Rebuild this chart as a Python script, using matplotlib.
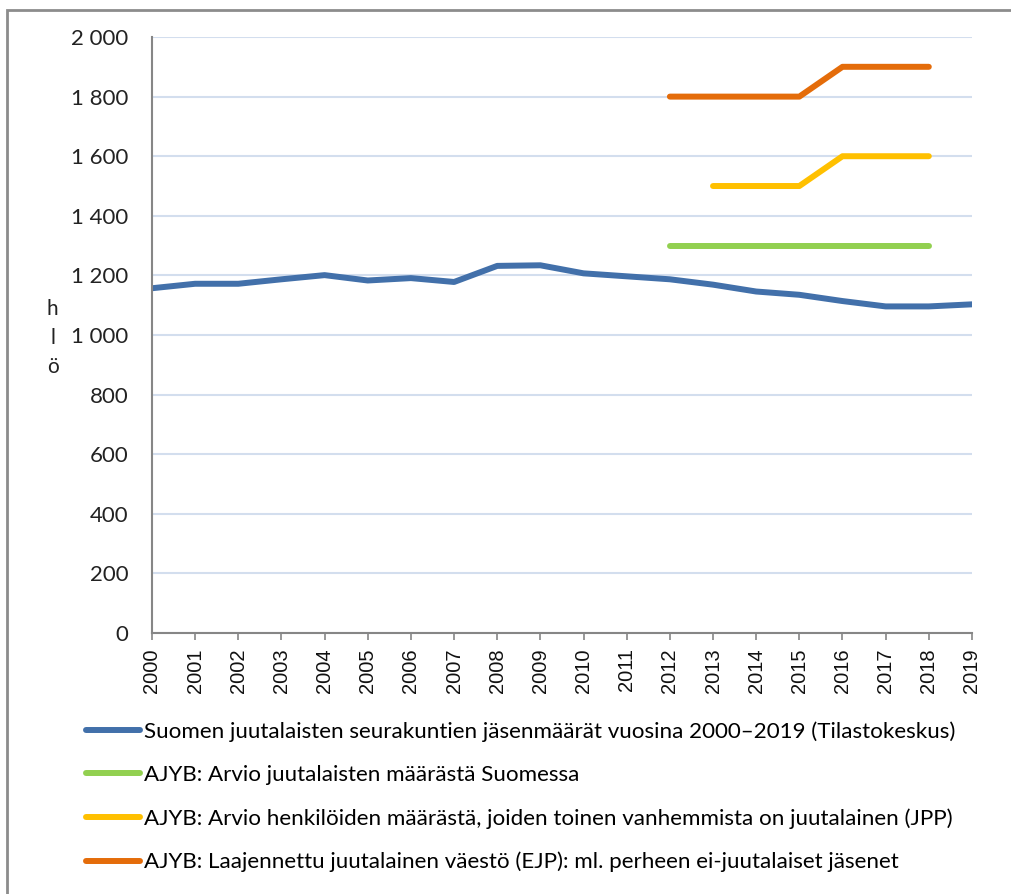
import matplotlib
matplotlib.use("Agg")
import matplotlib.pyplot as plt
from matplotlib.ticker import FuncFormatter
from matplotlib.patches import Rectangle

plt.rcParams["font.family"] = ["Lato", "DejaVu Sans"]

years = list(range(2000, 2020))
members = [1157, 1172, 1172, 1187, 1201, 1183, 1191, 1178, 1232, 1234,
           1207, 1197, 1187, 1169, 1146, 1135, 1114, 1096, 1096, 1103]

ajyb_years = [2012, 2013, 2014, 2015, 2016, 2017, 2018]
ajyb_core = [1300, 1300, 1300, 1300, 1300, 1300, 1300]
jpp_years = [2013, 2014, 2015, 2016, 2017, 2018]
jpp_values = [1500, 1500, 1500, 1600, 1600, 1600]
ejp_years = [2012, 2013, 2014, 2015, 2016, 2017, 2018]
ejp_values = [1800, 1800, 1800, 1800, 1900, 1900, 1900]

labels = [
    "Suomen juutalaisten seurakuntien jäsenmäärät vuosina 2000–2019 (Tilastokeskus)",
    "AJYB: Arvio juutalaisten määrästä Suomessa",
    "AJYB: Arvio henkilöiden määrästä, joiden toinen vanhemmista on juutalainen (JPP)",
    "AJYB: Laajennettu juutalainen väestö (EJP): ml. perheen ei-juutalaiset jäsenet",
]
colors = ["#4270AA", "#92D050", "#FFC000", "#E46C0A"]


def _thousands(x, _pos):
    return f"{int(x):,}".replace(",", " ")


fig = plt.figure(figsize=(10.11, 8.94), dpi=100)
ax = fig.add_axes([0.1503, 0.2919, 0.8111, 0.6667])

lw = 4.3
ax.plot(years, members, color=colors[0], lw=lw, solid_capstyle="round",
        solid_joinstyle="round", label=labels[0])
ax.plot(ajyb_years, ajyb_core, color=colors[1], lw=lw, solid_capstyle="round",
        solid_joinstyle="round", label=labels[1])
ax.plot(jpp_years, jpp_values, color=colors[2], lw=lw, solid_capstyle="round",
        solid_joinstyle="round", label=labels[2])
ax.plot(ejp_years, ejp_values, color=colors[3], lw=lw, solid_capstyle="round",
        solid_joinstyle="round", label=labels[3])

ax.set_xlim(2000, 2019)
ax.set_ylim(0, 2000)
ax.set_yticks(range(0, 2001, 200))
ax.yaxis.set_major_formatter(FuncFormatter(_thousands))
ax.set_xticks(years)
ax.set_xticklabels([str(y) for y in years], rotation=90, fontsize=14.5,
                   family=["Liberation Sans", "DejaVu Sans"])
ax.tick_params(axis="y", length=0, pad=17, labelsize=16, labelcolor="#222222")
ax.tick_params(axis="x", length=5, width=1.2, color="#868686", pad=6,
               labelcolor="#111111")
ax.grid(axis="y", color="#D3DEEE", lw=1.5)
ax.set_axisbelow(True)
for side in ["top", "right"]:
    ax.spines[side].set_visible(False)
for side in ["left", "bottom"]:
    ax.spines[side].set_color("#868686")
    ax.spines[side].set_linewidth(1.5)

fig.text(0.052, 0.622, "h\nl\nö", ha="center", va="center", fontsize=15,
         linespacing=1.55, color="#222222")

fig.legend(loc="upper left", bbox_to_anchor=(0.085, 0.193), frameon=False,
           fontsize=16.1, handlelength=2.4, handletextpad=0.2,
           labelspacing=1.03, borderaxespad=0, borderpad=0)

fig.patches.append(Rectangle((7 / 1011, -0.1), 1.2, 1 - 10 / 894 + 0.1,
                             transform=fig.transFigure, fill=False,
                             edgecolor="#8C8C8C", lw=2))

fig.savefig("out.png", dpi=100)
